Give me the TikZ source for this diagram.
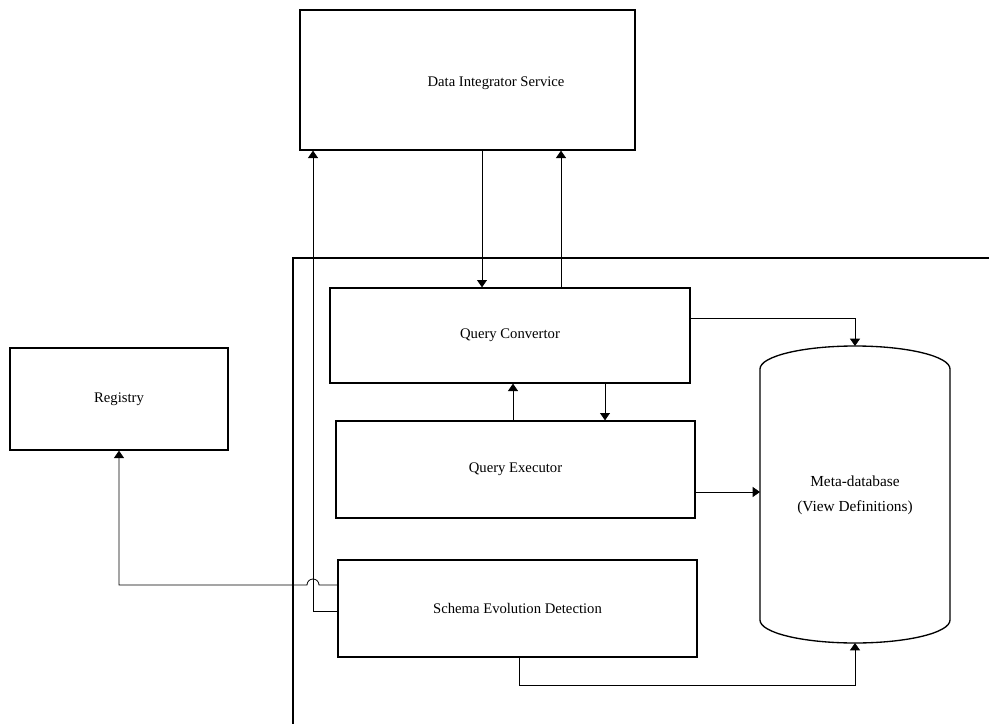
\documentclass[tikz,border=0pt]{standalone}
\usepackage{fontspec}
\setmainfont{Liberation Serif}
\usetikzlibrary{arrows.meta}
\begin{document}
\begin{tikzpicture}[x=0.75pt,y=-0.75pt,
  box/.style={draw,line width=1pt,inner sep=0pt,align=center,font=\fontsize{11}{13}\selectfont},
  conn/.style={line width=0.6pt},
  arr/.style={conn,-{Triangle[width=7.5pt,length=5.5pt]}}]
\useasboundingbox (0,0) rectangle (989,724);
% container
\draw[line width=1pt] (989,258) -- (293,258) -- (293,724);
% boxes
\node[box,minimum width=251.25pt,minimum height=105pt] (dis) at (467.5,80) {};
\node[font=\fontsize{11}{13}\selectfont] (distext) at (496,83) {Data Integrator Service};
\node[box,minimum width=163.5pt,minimum height=76.5pt] (reg) at (119,399) {Registry};
\node[box,minimum width=270pt,minimum height=71.25pt] (qc) at (510,335.5) {Query Convertor};
\node[box,minimum width=269.25pt,minimum height=72.75pt] (qe) at (515.5,469.5) {Query Executor};
\node[box,minimum width=269.25pt,minimum height=72.75pt] (sed) at (517.5,608.5) {Schema Evolution Detection};
% cylinder
\coordinate (cyltop) at (855,346);
\coordinate (cylbot) at (855,643);
\coordinate (cylwest) at (760,492);
\draw[line width=1pt] (760,369) arc[start angle=180,end angle=0,x radius=71.25pt,y radius=17.25pt]
  -- (950,620) arc[start angle=0,end angle=-180,x radius=71.25pt,y radius=17.25pt] -- cycle;
\node[align=center,font=\fontsize{11.5}{19}\selectfont] (cyl) at (855,495) {Meta-database\\(View Definitions)};
% helper coordinates
\coordinate (x482) at (482,0);
\coordinate (x561) at (561,0);
\coordinate (x513) at (513,0);
\coordinate (x605) at (605,0);
\coordinate (x519) at (519,0);
\coordinate (x120) at (119,0);
\coordinate (x313) at (313,0);
\coordinate (y318) at (0,318);
\coordinate (y492) at (0,492);
\coordinate (y585) at (0,585);
\coordinate (y611) at (0,611);
% connectors
\draw[arr] (x482 |- dis.south) -- (x482 |- qc.north);
\draw[arr] (x561 |- qc.north) -- (x561 |- dis.south);
\draw[arr] (qc.east |- y318) -| (cyltop);
\draw[arr] (x513 |- qe.north) -- (x513 |- qc.south);
\draw[arr] (x605 |- qc.south) -- (x605 |- qe.north);
\draw[arr] (qe.east |- y492) -- (cylwest);
\draw[arr] (x519 |- sed.south) -- (519,685) -| (cylbot);
\draw[arr] (sed.west |- y585) -- (319,585) arc[start angle=0,end angle=180,radius=4.5pt] -- (119,585) -- (x120 |- reg.south);
\draw[arr] (sed.west |- y611) -- (313,611) -- (x313 |- dis.south);
\end{tikzpicture}
\end{document}
